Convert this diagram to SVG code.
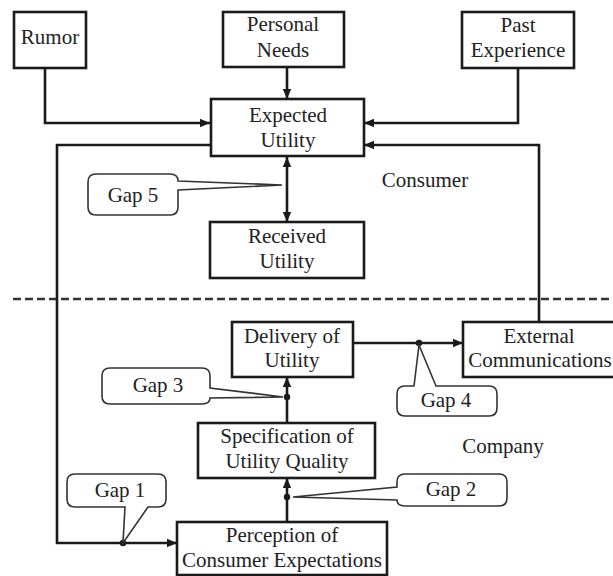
<svg xmlns="http://www.w3.org/2000/svg" width="613" height="576" viewBox="0 0 613 576">
<defs>
<marker id="ah" markerUnits="userSpaceOnUse" markerWidth="12" markerHeight="10" refX="10" refY="5" orient="auto-start-reverse">
<path d="M0,0.8 L10,5 L0,9.2 Z" fill="#1a1a1a"/>
</marker>
<style>
.box{fill:#fff;stroke:#1a1a1a;stroke-width:2.6}
text{font-family:'Liberation Serif','DejaVu Serif',serif;font-size:21px;fill:#222;text-anchor:middle}
.c{fill:none;stroke:#1a1a1a;stroke-width:2.6}
.ca{fill:none;stroke:#1a1a1a;stroke-width:2.6;marker-end:url(#ah)}
.co{fill:#fff;stroke:#333;stroke-width:1.6}
.dot{fill:#1a1a1a}
</style>
</defs>
<rect width="613" height="576" fill="#fff"/>
<line x1="13" y1="299" x2="613" y2="299" stroke="#333" stroke-width="2.6" stroke-dasharray="8,4"/>
<g id="connectors">
<path class="ca" d="M45,68 V123 H210"/>
<path class="ca" d="M287,68 V99"/>
<path class="ca" d="M518,68 V123 H364"/>
<path class="ca" d="M539,322 V145 H364"/>
<path class="ca" d="M212,145 H57 V543 H177"/>
<path class="ca" d="M287,157 V222" style="marker-start:url(#ah)"/>
<path class="ca" d="M353,343 H463"/>
<path class="ca" d="M287,423 V377"/>
<path class="ca" d="M287,522 V478"/>
<circle class="dot" cx="123" cy="543" r="3.2"/>
<circle class="dot" cx="419" cy="343" r="3.2"/>
<circle class="dot" cx="287" cy="397" r="3.2"/>
<circle class="dot" cx="287" cy="497" r="3.2"/>
</g>
<g font-family="Liberation Serif, serif">
<g id="rumor"><rect class="box" x="14" y="12" width="72" height="56"/><text x="50" y="44">Rumor</text></g>
<g id="personal-needs"><rect class="box" x="223" y="12" width="121" height="55"/><text x="283" y="31">Personal</text><text x="283" y="57">Needs</text></g>
<g id="past-experience"><rect class="box" x="462" y="12" width="112" height="56"/><text x="518" y="32">Past</text><text x="518" y="57">Experience</text></g>
<g id="expected-utility"><rect class="box" x="211" y="99" width="153" height="57"/><text x="288" y="122">Expected</text><text x="288" y="147">Utility</text></g>
<g id="received-utility"><rect class="box" x="210" y="222" width="154" height="56"/><text x="287" y="243">Received</text><text x="287" y="268">Utility</text></g>
<g id="delivery-of-utility"><rect class="box" x="232" y="322" width="121" height="55"/><text x="292" y="343">Delivery of</text><text x="292" y="367">Utility</text></g>
<g id="external-communications"><rect class="box" x="463" y="322" width="155" height="55"/><text x="539" y="343">External</text><text x="540" y="367">Communications</text></g>
<g id="specification"><rect class="box" x="198" y="423" width="177" height="55"/><text x="287" y="443">Specification of</text><text x="287" y="468">Utility Quality</text></g>
<g id="perception"><rect class="box" x="177" y="522" width="210" height="53"/><text x="282" y="542">Perception of</text><text x="282" y="567">Consumer Expectations</text></g>
<g id="gap5"><path class="co" d="M96,174 H170 Q178,174 178,181 L282,185 L178,190 V207 Q178,215 170,215 H96 Q88,215 88,207 V182 Q88,174 96,174 Z"/><text x="133" y="202">Gap 5</text></g>
<g id="gap3"><path class="co" d="M110,368 H202 Q210,368 210,376 V388 L283,397 L210,398 Q210,404 202,404 H110 Q102,404 102,396 V376 Q102,368 110,368 Z"/><text x="158" y="392">Gap 3</text></g>
<g id="gap4"><path class="co" d="M405,386 H414 L419,345 L436,386 H489 Q497,386 497,394 V408 Q497,416 489,416 H405 Q397,416 397,408 V394 Q397,386 405,386 Z"/><text x="446" y="407">Gap 4</text></g>
<g id="gap2"><path class="co" d="M405,474 H499 Q507,474 507,482 V498 Q507,506 499,506 H405 Q397,506 397,500 L293,497 L397,487 V482 Q397,474 405,474 Z"/><text x="451" y="496">Gap 2</text></g>
<g id="gap1"><path class="co" d="M75,474 H158 Q166,474 166,482 V499 Q166,507 158,507 H148 L123,543 L125,507 H75 Q67,507 67,499 V482 Q67,474 75,474 Z"/><text x="120" y="497">Gap 1</text></g>
<g id="labels"><text x="425" y="187">Consumer</text><text x="503" y="453">Company</text></g>
</g>
</svg>
